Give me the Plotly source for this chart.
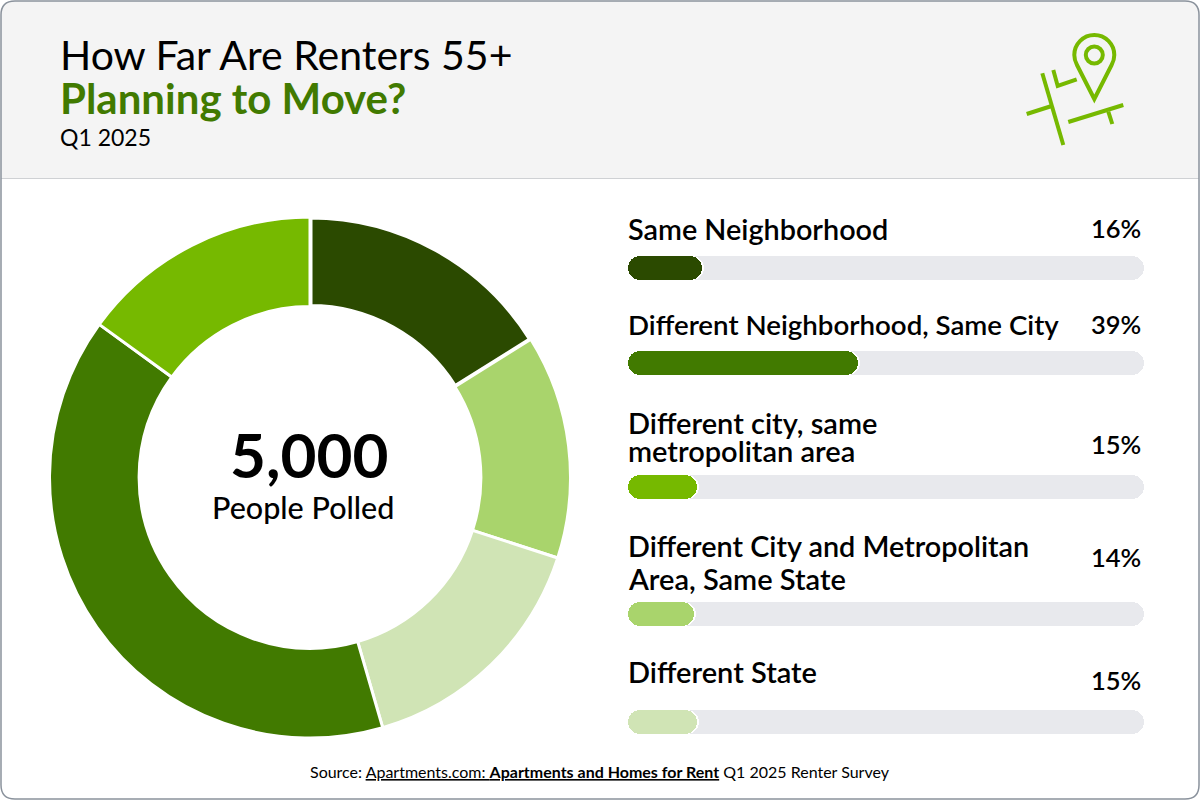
import plotly.graph_objects as go

# ---------- data ----------
categories = ["Same Neighborhood", "Different Neighborhood, Same City",
              "Different city, same metropolitan area",
              "Different City and Metropolitan Area, Same State", "Different State"]
percent_labels = ["16%", "39%", "15%", "14%", "15%"]
bar_lengths = [14.3, 44.6, 13.4, 12.8, 13.4]   # share of the track
bar_halo = [14.7, 45.0, 13.8, 13.2, 13.8]      # thin white edge just past each fill
track_full = [100, 100, 100, 100, 100]
bar_base = [0, 0, 0, 0, 0]
bar_colors = ["#2b4a00", "#417a00", "#76b900", "#a9d46c", "#d0e4b5"]

donut_labels = ["Same Neighborhood", "Different City and Metropolitan Area, Same State",
                "Different State", "Different Neighborhood, Same City",
                "Different city, same metropolitan area"]
donut_values = [16.1, 13.9, 15.5, 39.5, 15]    # slice shares
donut_colors = ["#2b4a00", "#a9d46c", "#d0e4b5", "#417a00", "#76b900"]

# ---------- layout constants (pixels) ----------
W, H = 1200, 800
FONT = "Lato"
row_centers = [268, 363, 487, 614, 722]
label_lines = [
    [("Same Neighborhood", 229, 28.8)],
    [("Different Neighborhood, Same City", 324, 27.7)],
    [("Different city, same", 422, 29), ("metropolitan area", 450, 29)],
    [("Different City and Metropolitan", 546, 28.8), ("Area, Same State", 578, 29)],
    [("Different State", 671, 29)],
]
percent_y = [228, 324, 444, 557, 680]


def px(x):
    return x / W


def py(y):
    return 1 - y / H


def path(*cmds):
    out = []
    for c in cmds:
        if isinstance(c, str):
            out.append(c)
        else:
            out.append(f"{px(c[0]):.5f} {py(c[1]):.5f}")
    return " ".join(out)


def text(t, x, y, size, color="#000000", anchor="left", weight=500):
    return dict(text=t, x=px(x), y=py(y), xref="paper", yref="paper", showarrow=False,
                xanchor=anchor, yanchor="middle", align=anchor,
                font=dict(family=FONT, size=size, color=color, weight=weight))


def pill(values, color):
    # an explicit base makes the corner radius apply to both ends of the bar
    return go.Bar(x=values, base=bar_base, y=row_centers, orientation="h", width=24,
                  showlegend=False, hoverinfo="skip", marker=dict(color=color, line=dict(width=0)))


fig = go.Figure()

fig.add_trace(go.Pie(
    labels=donut_labels, values=donut_values, sort=False, direction="clockwise", rotation=0,
    hole=0.656, textinfo="none", hoverinfo="skip", showlegend=False,
    marker=dict(colors=donut_colors, line=dict(color="#ffffff", width=[5, 3, 3, 3, 3])),
    domain=dict(x=[px(49.5), px(570.5)], y=[py(738), py(217)]),
))

fig.add_trace(pill(track_full, "#e8e9ed"))
fig.add_trace(pill(bar_halo, "#ffffff"))
fig.add_trace(pill(bar_lengths, bar_colors))

ACC = "#76b900"
shapes = [
    # header panel
    dict(type="path", layer="below", xref="paper", yref="paper", line=dict(width=0), fillcolor="#f4f4f4",
         path=path("M", (1, 178), "L", (1, 15), "Q", (1, 1), (15, 1), "L", (1185, 1), "Q", (1199, 1), (1199, 15),
                   "L", (1199, 178), "Z")),
    dict(type="line", layer="below", xref="paper", yref="paper", x0=px(1), x1=px(1199), y0=py(178.5), y1=py(178.5),
         line=dict(color="#cfd1d4", width=1)),
    # card border
    dict(type="path", layer="above", xref="paper", yref="paper", line=dict(color="#8a929c", width=1.5),
         path=path("M", (1, 15), "Q", (1, 1), (15, 1), "L", (1185, 1), "Q", (1199, 1), (1199, 15),
                   "L", (1199, 785), "Q", (1199, 799), (1185, 799), "L", (15, 799), "Q", (1, 799), (1, 785), "Z")),
    # map-pin icon
    dict(type="path", xref="paper", yref="paper", line=dict(color=ACC, width=4),
         path=path("M", (1094.3, 99), "L", (1077, 65), "Q", (1074.3, 60), (1074.3, 55),
                   "C", (1074.3, 44), (1083.3, 35), (1094.3, 35), "C", (1105.3, 35), (1114.3, 44), (1114.3, 55),
                   "Q", (1114.3, 60), (1111.6, 65), "Z")),
    dict(type="circle", xref="paper", yref="paper", line=dict(color=ACC, width=4),
         x0=px(1085.8), x1=px(1102.8), y0=py(46.5), y1=py(63.5)),
]
for seg in [
    [(1042.3, 73.3), (1063.3, 145)],
    [(1026.7, 114), (1051.7, 106)],
    [(1053.3, 70), (1057.7, 86), (1076.7, 79.3)],
    [(1068.3, 122), (1123.3, 105)],
    [(1108.3, 111.7), (1112.3, 124)],
]:
    cmds = ["M", seg[0]]
    for p in seg[1:]:
        cmds += ["L", p]
    shapes.append(dict(type="path", xref="paper", yref="paper", line=dict(color=ACC, width=4), path=path(*cmds)))

annotations = [
    text("How Far Are Renters 55+", 58, 54, 41, weight=400),
    text("Planning to Move?", 58, 98, 42, color="#417a00", weight=700),
    text("Q1 2025", 58, 137, 23, weight=400),
    text("5,000", 309, 454, 62, anchor="center", weight=700),
    text("People Polled", 303, 507, 30.5, anchor="center"),
    text("Source: <u>Apartments.com: <b>Apartments and Homes for Rent</b></u> Q1 2025 Renter Survey",
         600, 771, 16, anchor="center", weight=400),
]
for lines in label_lines:
    for t, y, size in lines:
        annotations.append(text(t, 626, y, size, weight=600))
for pct, y in zip(percent_labels, percent_y):
    annotations.append(text(pct, 1143, y, 25.5, anchor="right", weight=600))

fig.update_layout(
    width=W, height=H, autosize=False, margin=dict(l=0, r=0, t=0, b=0, pad=0),
    paper_bgcolor="#ffffff", plot_bgcolor="rgba(0,0,0,0)",
    barmode="overlay", barcornerradius=12, bargap=0,
    xaxis=dict(domain=[px(628), px(1144)], range=[0, 100], visible=False, fixedrange=True),
    yaxis=dict(domain=[0, 1], range=[H, 0], visible=False, fixedrange=True),
    shapes=shapes, annotations=annotations, font=dict(family=FONT),
)

fig.write_html("out.html", config=dict(displayModeBar=False),
               post_script="document.body.style.margin='0';document.body.style.overflow='hidden';")
